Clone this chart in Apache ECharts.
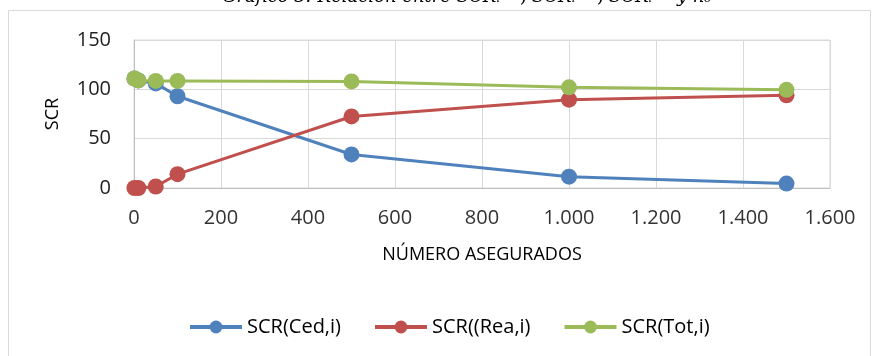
<!DOCTYPE html>
<html>
<head>
<meta charset="utf-8">
<script src="https://cdn.jsdelivr.net/npm/echarts@6/dist/echarts.min.js"></script>
<style>
  html, body { margin: 0; padding: 0; background: #fff; }
  #chart { width: 872px; height: 356px; }
</style>
</head>
<body>
<div id="chart"></div>
<script>
// Number of insured (x) and SCR values for each component
const insured = [1, 10, 50, 100, 500, 1000, 1500];
const scrCed = [111, 109, 106, 93, 34, 11.5, 4.5];
const scrRea = [0, 0, 1.5, 14, 72.5, 89.5, 94];
const scrTot = [111, 109, 108.5, 108.5, 108, 102, 99.5];

const seriesNames = ['SCR(Ced,i)', 'SCR((Rea,i)', 'SCR(Tot,i)'];
const colors = ['#4f81bd', '#c0504d', '#9bbb59'];
const xTicks = { min: 0, max: 1600, interval: 200 };
const yTicks = { min: 0, max: 150, interval: 50 };

const FONT = 'Open Sans';

function pairs(xs, ys) { return xs.map((x, i) => [x, ys[i]]); }
function thousands(v) { return String(v).replace(/\B(?=(\d{3})+(?!\d))/g, '.'); }

const chart = echarts.init(document.getElementById('chart'), null, { renderer: 'canvas' });

const lineSeries = [scrCed, scrRea, scrTot].map((vals, i) => ({
  name: seriesNames[i],
  type: 'line',
  data: pairs(insured, vals),
  symbol: 'circle',
  symbolSize: 16,
  lineStyle: { width: 3, color: colors[i] },
  itemStyle: { color: colors[i] },
  z: 2 + i,
  animation: false
}));

chart.setOption({
  animation: false,
  textStyle: { fontFamily: FONT },
  graphic: [
    // chart frame
    { type: 'rect', shape: { x: 8.5, y: 10.5, width: 862, height: 360 },
      style: { fill: 'none', stroke: '#d9d9d9', lineWidth: 1 }, silent: true },
    // caption above the frame (only lower part is visible)
    { type: 'text', left: 222, top: -12,
      style: { text: 'Gráfico 3: Relación entre SCRᵢᶜᵉᵈ, SCRᵢᴿᵉᵃ, SCRᵢᵀᵒᵗ y n₀',
               font: 'italic 18px "DejaVu Serif"', fill: '#000' }, silent: true }
  ],
  grid: { left: 134, right: 42, top: 40, bottom: 168, show: true,
          borderColor: '#d9d9d9', borderWidth: 1 },
  legend: {
    top: 312,
    left: 183,
    itemWidth: 52,
    itemHeight: 16,
    itemGap: 32,
    lineStyle: { width: 4 },
    textStyle: { fontFamily: FONT, fontSize: 20, color: '#000' },
    data: seriesNames.map((n, i) => ({ name: n, itemStyle: { color: colors[i] } }))
  },
  xAxis: {
    type: 'value',
    min: xTicks.min, max: xTicks.max, interval: xTicks.interval,
    name: 'NÚMERO ASEGURADOS',
    nameLocation: 'middle',
    nameGap: 58,
    nameTextStyle: { fontFamily: FONT, fontSize: 18, color: '#000' },
    axisLine: { show: true, lineStyle: { color: '#bfbfbf', width: 1 } },
    axisTick: { show: false },
    axisLabel: { fontFamily: FONT, fontSize: 20, color: '#333', margin: 20,
                 formatter: v => thousands(v) },
    splitLine: { show: true, lineStyle: { color: '#d9d9d9', width: 1 } }
  },
  yAxis: {
    type: 'value',
    min: yTicks.min, max: yTicks.max, interval: yTicks.interval,
    name: 'SCR',
    nameLocation: 'middle',
    nameGap: 72,
    nameRotate: 90,
    nameTextStyle: { fontFamily: FONT, fontSize: 18, color: '#000' },
    axisLine: { show: true, lineStyle: { color: '#bfbfbf', width: 1 } },
    axisTick: { show: false },
    axisLabel: { fontFamily: FONT, fontSize: 20, color: '#222', margin: 23 },
    splitLine: { show: true, lineStyle: { color: '#d9d9d9', width: 1 } }
  },
  series: lineSeries
});
</script>
</body>
</html>
